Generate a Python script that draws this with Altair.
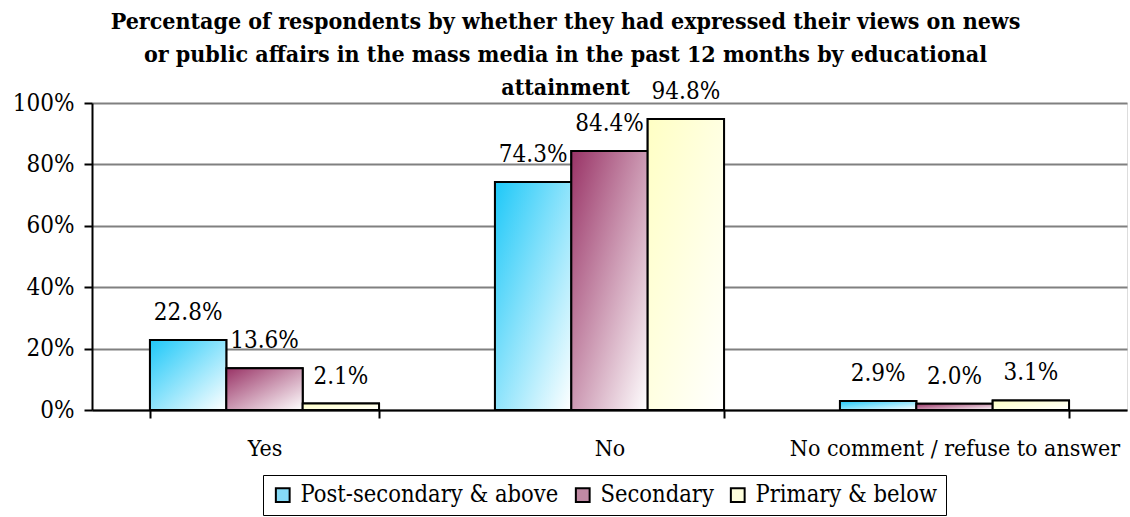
import altair as alt
import pandas as pd

# Survey answers and education groups
answers = ["Yes", "No", "No comment / refuse to answer"]
groups = ["Post-secondary & above", "Secondary", "Primary & below"]

# Percentage of respondents, one list per education group (same order as answers)
post_secondary = [22.8, 74.3, 2.9]
secondary = [13.6, 84.4, 2.0]
primary = [2.1, 94.8, 3.1]

title_lines = [
    "Percentage of respondents by whether they had expressed their views on news",
    "or public affairs in the mass media in the past 12 months by educational",
    "attainment",
]
y_ticks = [0, 20, 40, 60, 80, 100]

rows = []
for g, vals in zip(groups, [post_secondary, secondary, primary]):
    for a, v in zip(answers, vals):
        rows.append({"answer": a, "group": g, "value": v})
df = pd.DataFrame(rows)

# Fill colours: solid tones for the legend, diagonal fades to white for the bars
base_colors = ["#1EC8F8", "#993366", "#FFFFC4"]
legend_colors = ["#86DBF7", "#C08AA4", "#FFFFDC"]

FONT = "DejaVu Serif Condensed"


def fade(color):
    return alt.LinearGradient(
        gradient="linear",
        x1=0, y1=0, x2=1, y2=1,
        stops=[alt.GradientStop(color=color, offset=0),
               alt.GradientStop(color="#FFFFFF", offset=1)],
    )


x_enc = alt.X(
    "answer:N",
    sort=answers,
    title=None,
    scale=alt.Scale(paddingInner=0.336, paddingOuter=0.168),
    axis=alt.Axis(
        labelAngle=0,
        labelFont=FONT,
        labelFontSize=23,
        labelColor="#000000",
        labelPadding=19,
        labelLimit=500,
        tickBand="extent",
        tickSize=8,
        tickWidth=2,
        tickColor="#000000",
        domainColor="#000000",
        domainWidth=2,
        grid=False,
    ),
)
xoff_enc = alt.XOffset(
    "group:N", sort=groups, scale=alt.Scale(paddingInner=0, paddingOuter=0)
)
y_enc = alt.Y(
    "value:Q",
    title=None,
    scale=alt.Scale(domain=[0, 100], nice=False),
    axis=alt.Axis(
        values=y_ticks,
        labelExpr="datum.value + '%'",
        labelFont=FONT,
        labelFontSize=24,
        labelColor="#000000",
        labelPadding=10,
        tickSize=8,
        tickWidth=2,
        tickColor="#000000",
        domainColor="#000000",
        domainWidth=2,
        grid=True,
        gridColor="#808080",
        gridWidth=2,
    ),
)

base = alt.Chart(df).encode(x=x_enc, xOffset=xoff_enc, y=y_enc)

# Solid bars that carry the legend; covered by the faded bars drawn above
legend_bars = base.mark_bar(stroke="#000000", strokeWidth=2).encode(
    color=alt.Color(
        "group:N",
        sort=groups,
        scale=alt.Scale(domain=groups, range=legend_colors),
        legend=alt.Legend(
            title=None,
            orient="none",
            direction="horizontal",
            legendX=171,
            legendY=372,
            labelFont=FONT,
            labelFontSize=23.5,
            labelColor="#000000",
            labelLimit=400,
            symbolType="square",
            symbolSize=190,
            symbolStrokeColor="#000000",
            symbolStrokeWidth=2,
            symbolOpacity=1,
            columnPadding=12,
            labelOffset=6,
            strokeColor="#000000",
            padding=8,
        ),
    )
)

faded = [
    base.transform_filter(alt.datum.group == g).mark_bar(
        fill=fade(c), stroke="#000000", strokeWidth=2
    )
    for g, c in zip(groups, base_colors)
]

labels = base.transform_calculate(
    label="format(datum.value, '.1f') + '%'"
).mark_text(
    font=FONT, fontSize=24, color="#000000", baseline="alphabetic", dy=-20
).encode(text="label:N")

chart = alt.layer(legend_bars, *faded, labels).properties(
    width=1035,
    height=307,
    title=alt.TitleParams(
        text=title_lines,
        font=FONT,
        fontSize=23,
        fontWeight="bold",
        color="#000000",
        anchor="middle",
        frame="group",
        dx=-44,
        dy=47,
        offset=4,
        lineHeight=33,
        baseline="bottom",
    ),
    autosize=alt.AutoSizeParams(type="none"),
    padding={"left": 92, "top": 103, "right": 3, "bottom": 107},
).configure_view(stroke="#808080", strokeWidth=2).configure(background="#FFFFFF")

chart.save("out.html", embed_options={"renderer": "svg", "actions": False})
